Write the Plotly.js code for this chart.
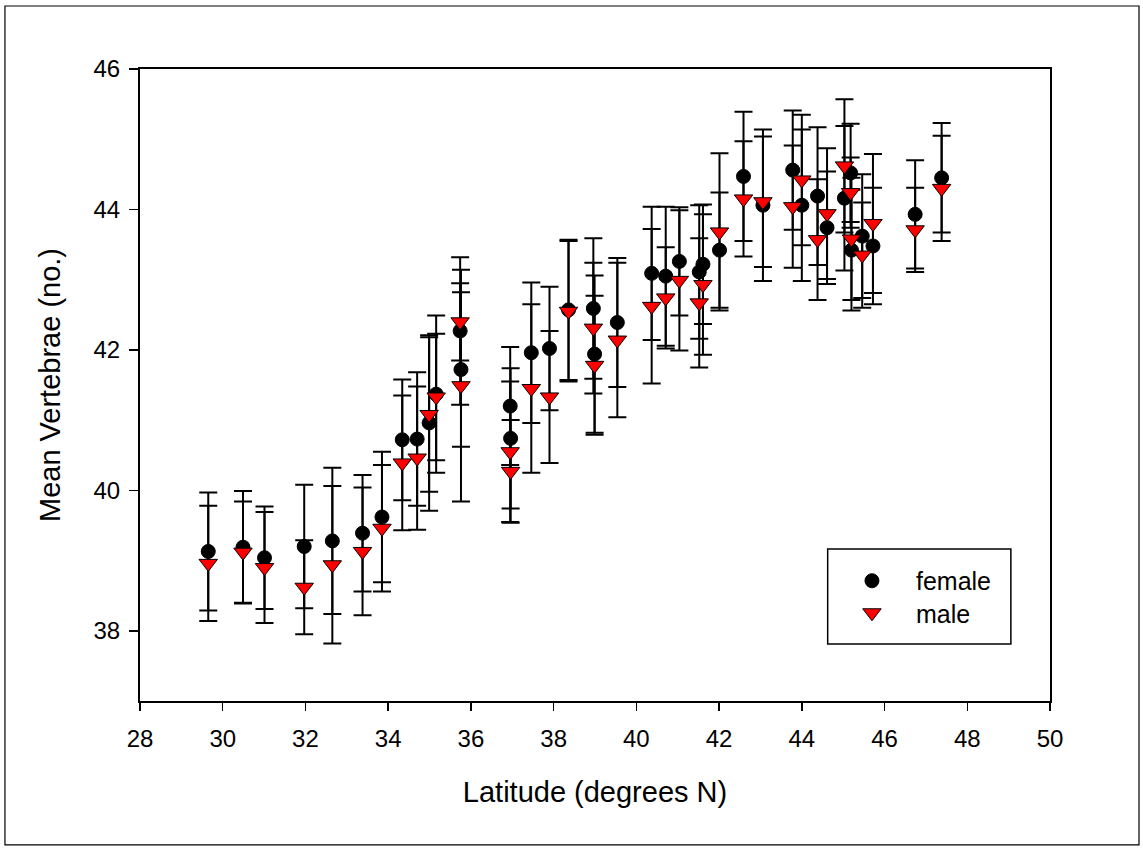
<!DOCTYPE html>
<html>
<head>
<meta charset="utf-8">
<script src="https://cdn.plot.ly/plotly-3.0.1.min.js"></script>
<style>
  html, body { margin: 0; padding: 0; background: #ffffff; }
  #chart { width: 1143px; height: 850px; }
</style>
</head>
<body>
<div id="chart"></div>
<script>
// Latitude of each sampling site (degrees N)
var latitude = [29.65, 30.49, 31.01, 31.97, 32.65, 33.38, 33.85, 34.34, 34.70, 34.99,
                35.16, 35.74, 35.76, 36.95, 36.96, 37.46, 37.90, 38.36, 38.96, 38.99,
                39.54, 40.37, 40.71, 41.04, 41.52, 41.61, 42.01, 42.59, 43.06, 43.78,
                44.00, 44.38, 44.61, 45.03, 45.18, 45.20, 45.46, 45.72, 46.74, 47.38];

// Female mean vertebrae and error
var femaleMean = [39.13, 39.19, 39.04, 39.20, 39.28, 39.39, 39.62, 40.72, 40.73, 40.96,
                  41.37, 42.27, 41.72, 41.20, 40.74, 41.96, 42.02, 42.57, 42.59, 41.94,
                  42.39, 43.09, 43.05, 43.26, 43.11, 43.22, 43.42, 44.47, 44.06, 44.56,
                  44.06, 44.19, 43.74, 44.16, 44.52, 43.42, 43.62, 43.48, 43.93, 44.45];
var femaleErr  = [0.84, 0.80, 0.73, 0.88, 1.04, 0.83, 0.93, 0.86, 0.95, 1.25,
                  1.12, 1.05, 1.10, 0.84, 1.00, 1.00, 0.88, 1.00, 1.00, 1.12,
                  0.92, 0.95, 0.99, 0.77, 0.95, 0.85, 0.82, 0.92, 1.08, 0.85,
                  1.08, 0.98, 0.80, 1.03, 0.70, 0.86, 0.88, 0.83, 0.77, 0.78];

// Male mean vertebrae and error
var maleMean = [38.96, 39.12, 38.90, 38.62, 38.94, 39.13, 39.46, 40.39, 40.46, 41.08,
                41.33, 42.40, 41.49, 40.55, 40.27, 41.45, 41.33, 42.55, 42.31, 41.78,
                42.14, 42.62, 42.74, 42.99, 42.67, 42.93, 43.68, 44.15, 44.11, 44.04,
                44.42, 43.57, 43.94, 44.62, 44.24, 43.58, 43.35, 43.80, 43.71, 44.30];
var maleErr  = [0.82, 0.72, 0.79, 0.67, 1.12, 0.91, 0.90, 0.96, 1.02, 1.10,
                0.90, 0.55, 1.65, 1.00, 0.73, 1.20, 0.94, 1.00, 0.93, 0.99,
                1.10, 1.10, 0.72, 1.00, 0.92, 1.00, 1.12, 0.82, 0.93, 0.87,
                0.93, 0.86, 0.93, 0.95, 0.50, 0.87, 0.75, 0.99, 0.60, 0.75];

var xTicks = [28, 30, 32, 34, 36, 38, 40, 42, 44, 46, 48, 50];
var yTicks = [38, 40, 42, 44, 46];

var errStyle = function (arr) {
  return { type: 'data', array: arr, visible: true, color: '#000000', thickness: 2, width: 9 };
};

var traces = [
  {
    name: 'female',
    type: 'scatter',
    mode: 'markers',
    x: latitude,
    y: femaleMean,
    error_y: errStyle(femaleErr),
    marker: { symbol: 'circle', size: 14, color: '#000000', line: { color: '#000000', width: 1 } },
    legend: 'legend',
    hoverinfo: 'x+y'
  },
  {
    name: 'male',
    type: 'scatter',
    mode: 'markers',
    x: latitude,
    y: maleMean,
    error_y: errStyle(maleErr),
    marker: { symbol: 'triangle-down', size: 16, color: '#ff0000', line: { color: '#000000', width: 1 } },
    legend: 'legend2',
    hoverinfo: 'x+y'
  }
];

var font = 'Liberation Sans, Arial, sans-serif';

var legendBase = function (yPos) {
  return {
    x: 0.756, xanchor: 'left',
    y: yPos, yanchor: 'middle',
    bgcolor: 'rgba(0,0,0,0)',
    borderwidth: 0,
    font: { family: font, size: 25, color: '#000000' },
    itemwidth: 78
  };
};

var layout = {
  width: 1143,
  height: 850,
  margin: { l: 140, r: 93, t: 69, b: 149, pad: 0 },
  paper_bgcolor: '#ffffff',
  plot_bgcolor: '#ffffff',
  font: { family: font, size: 24, color: '#000000' },
  showlegend: true,
  legend: legendBase(0.1899),
  legend2: legendBase(0.1392),
  xaxis: {
    range: [28, 50],
    tickmode: 'array',
    tickvals: xTicks,
    ticktext: xTicks.map(String),
    ticks: 'outside',
    ticklen: 8,
    tickwidth: 1.5,
    tickcolor: '#000000',
    ticklabelstandoff: 7,
    showline: true,
    linecolor: '#000000',
    linewidth: 2,
    mirror: true,
    showgrid: false,
    zeroline: false,
    tickfont: { family: font, size: 24, color: '#000000' },
    title: { text: 'Latitude (degrees N)', font: { family: font, size: 29, color: '#000000' }, standoff: 31 },
    automargin: false
  },
  yaxis: {
    range: [37, 46],
    tickmode: 'array',
    tickvals: yTicks,
    ticktext: yTicks.map(String),
    ticks: 'outside',
    ticklen: 9,
    tickwidth: 1.5,
    tickcolor: '#000000',
    ticklabelstandoff: 4,
    showline: true,
    linecolor: '#000000',
    linewidth: 2,
    mirror: true,
    showgrid: false,
    zeroline: false,
    tickfont: { family: font, size: 24, color: '#000000' },
    title: { text: 'Mean Vertebrae (no.)', font: { family: font, size: 29, color: '#000000' }, standoff: 24 },
    automargin: false
  },
  shapes: [
    { type: 'rect', xref: 'paper', yref: 'paper',
      x0: -0.1484, x1: 1.0978, y0: -0.2278, y1: 1.0997,
      line: { color: '#000000', width: 1.2 }, fillcolor: 'rgba(0,0,0,0)' },
    { type: 'rect', xref: 'paper', yref: 'paper',
      x0: 0.7557, x1: 0.957, y0: 0.0902, y1: 0.2405,
      line: { color: '#000000', width: 1.5 }, fillcolor: 'rgba(0,0,0,0)', layer: 'above' }
  ]
};

Plotly.newPlot('chart', traces, layout, { staticPlot: true, displayModeBar: false });
</script>
</body>
</html>
